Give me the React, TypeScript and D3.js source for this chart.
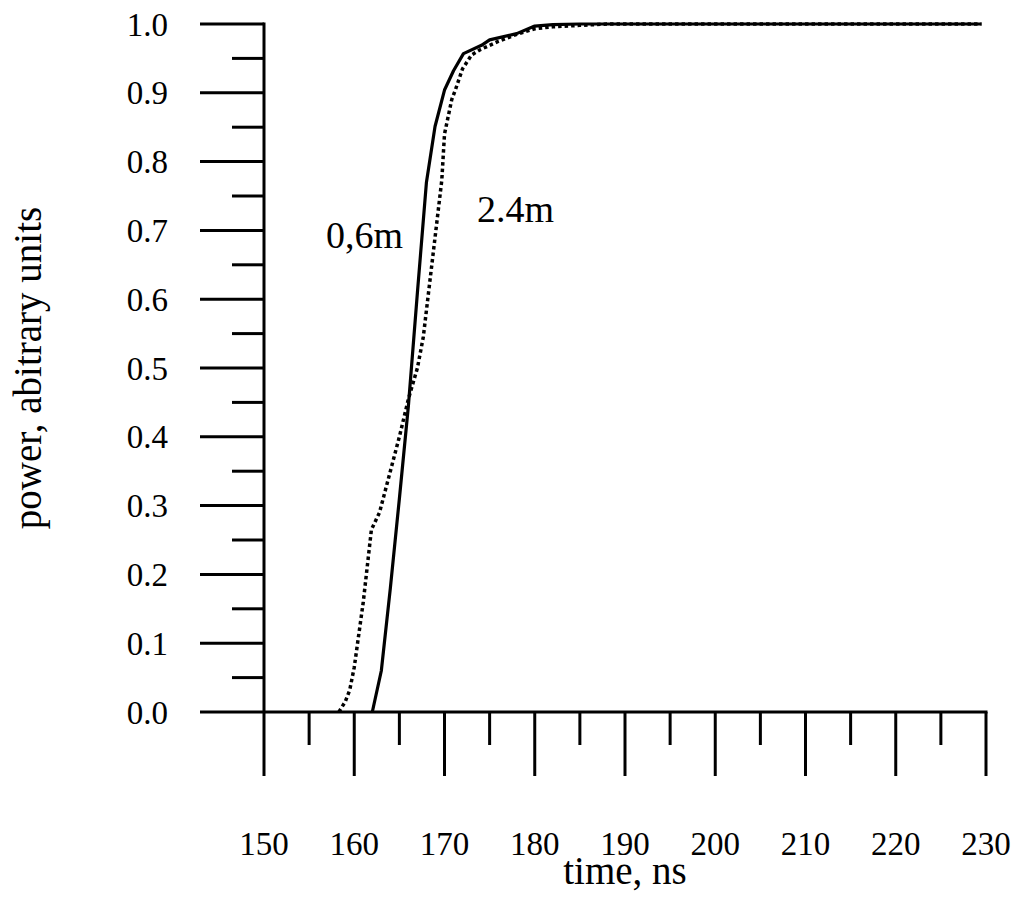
import React from "react";
import * as d3 from "d3";

const timeSolid = [162, 163, 164, 165, 166, 167, 168, 168.95, 170, 171, 172.1, 174.1, 175, 178, 180, 182, 185, 190, 200, 210, 220, 229.5];
const powerSolid = [0, 0.06, 0.18, 0.31, 0.445, 0.61, 0.77, 0.851, 0.904, 0.932, 0.957, 0.969, 0.977, 0.986, 0.997, 0.999, 1.0, 1.0, 1.0, 1.0, 1.0, 1.0];

const timeDotted = [158.3, 159, 159.5, 160, 161, 161.9, 162.8, 164, 165, 166, 167, 167.65, 168, 169, 169.7, 170, 170.8, 171.2, 172, 173, 174, 176, 178, 180, 182, 185, 188, 200, 229.5];
const powerDotted = [0, 0.015, 0.032, 0.065, 0.16, 0.265, 0.29, 0.35, 0.4, 0.455, 0.5, 0.545, 0.584, 0.695, 0.773, 0.84, 0.89, 0.904, 0.935, 0.955, 0.963, 0.975, 0.985, 0.993, 0.996, 0.998, 1.0, 1.0, 1.0];

const xMajorTicks = [150, 160, 170, 180, 190, 200, 210, 220, 230];
const xMinorTicks = [155, 165, 175, 185, 195, 205, 215, 225];
const yMajorTicks = [0, 0.1, 0.2, 0.3, 0.4, 0.5, 0.6, 0.7, 0.8, 0.9, 1.0];
const yMinorTicks = [0.05, 0.15, 0.25, 0.35, 0.45, 0.55, 0.65, 0.75, 0.85, 0.95];

const labelSolid = "0,6m";
const labelDotted = "2.4m";
const xTitle = "time, ns";
const yTitle = "power, abitrary units";

export default function App() {
  const x = d3.scaleLinear().domain([150, 230]).range([264, 986]);
  const y = d3.scaleLinear().domain([0, 1]).range([712, 24]);
  const fmt = d3.format(".1f");
  const line = d3
    .line<[number, number]>()
    .x((d) => x(d[0]))
    .y((d) => y(d[1]));
  const solidPts = timeSolid.map((t, i) => [t, powerSolid[i]] as [number, number]);
  const dottedPts = timeDotted.map((t, i) => [t, powerDotted[i]] as [number, number]);
  const font = "'Liberation Serif', 'Times New Roman', serif";
  const sw = 3;

  return (
    <svg
      width={1024}
      height={899}
      style={{ position: "absolute", left: 0, top: 0, background: "#fff" }}
      fontFamily={font}
    >
      <rect x={0} y={0} width={1024} height={899} fill="#fff" />
      {/* axes lines */}
      <line x1={x(150)} x2={x(150)} y1={y(1) - 1.5} y2={y(0)} stroke="#000" strokeWidth={sw} />
      <line x1={x(150)} x2={x(230) + 1.5} y1={y(0)} y2={y(0)} stroke="#000" strokeWidth={sw} />
      {/* y ticks */}
      {yMajorTicks.map((v) => (
        <g key={"ym" + v}>
          <line x1={x(150) - 64} x2={x(150)} y1={y(v)} y2={y(v)} stroke="#000" strokeWidth={sw} />
          <text x={x(150) - 96} y={y(v)} dy="0.35em" textAnchor="end" fontSize={33} fill="#000">
            {fmt(v)}
          </text>
        </g>
      ))}
      {yMinorTicks.map((v) => (
        <line key={"yn" + v} x1={x(150) - 32} x2={x(150)} y1={y(v)} y2={y(v)} stroke="#000" strokeWidth={sw} />
      ))}
      {/* x ticks */}
      {xMajorTicks.map((t) => (
        <g key={"xm" + t}>
          <line x1={x(t)} x2={x(t)} y1={y(0)} y2={y(0) + 64} stroke="#000" strokeWidth={sw} />
          <text x={x(t)} y={855} textAnchor="middle" fontSize={33} fill="#000">
            {t}
          </text>
        </g>
      ))}
      {xMinorTicks.map((t) => (
        <line key={"xn" + t} x1={x(t)} x2={x(t)} y1={y(0)} y2={y(0) + 33} stroke="#000" strokeWidth={sw} />
      ))}
      {/* curves */}
      <path d={line(dottedPts) || ""} fill="none" stroke="#000" strokeWidth={3.5} strokeDasharray="3.5 3" />
      <path d={line(solidPts) || ""} fill="none" stroke="#000" strokeWidth={3.2} strokeLinejoin="round" />
      {/* annotations */}
      <text x={326} y={248} fontSize={38} fill="#000">{labelSolid}</text>
      <text x={477} y={222} fontSize={38} fill="#000">{labelDotted}</text>
      {/* axis titles */}
      <text x={625} y={884} textAnchor="middle" fontSize={39} fill="#000">{xTitle}</text>
      <text
        transform="translate(41,368) rotate(-90)"
        textAnchor="middle"
        fontSize={39}
        fill="#000"
      >
        {yTitle}
      </text>
    </svg>
  );
}
